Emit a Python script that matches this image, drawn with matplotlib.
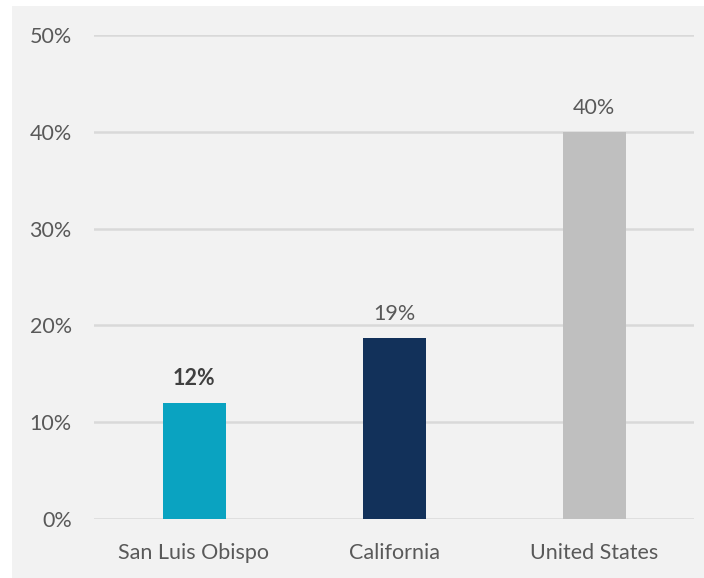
import matplotlib
matplotlib.use("Agg")
import matplotlib.pyplot as plt
from matplotlib.patches import Rectangle

categories = ["San Luis Obispo", "California", "United States"]
values = [0.12, 0.187, 0.40]
labels = ["12%", "19%", "40%"]
label_bold = [True, False, False]
colors = ["#0AA3C1", "#12315A", "#BFBFBF"]
yticks = [0, 0.1, 0.2, 0.3, 0.4, 0.5]
ytick_labels = ["0%", "10%", "20%", "30%", "40%", "50%"]

plt.rcParams['font.family'] = ['Lato', 'DejaVu Sans']
text_color = "#595959"

fig = plt.figure(figsize=(7.04, 5.78), dpi=100)
fig.patch.set_facecolor("white")
fig.patches.append(Rectangle((12/704, 0), 1 - 12/704, 1 - 6/578, transform=fig.transFigure,
                             facecolor="#F2F2F2", edgecolor="none", zorder=-10))

ax = fig.add_axes([94/704, 1 - 519/578, 600/704, (519 - 35)/578])
ax.set_facecolor("none")
x = list(range(len(categories)))
ax.bar(x, values, width=0.315, color=colors, zorder=3)
ax.set_xlim(-0.5, 2.5)
ax.set_ylim(0, 0.5)
ax.set_yticks(yticks)
ax.set_yticklabels(ytick_labels)
ax.set_xticks(x)
ax.set_xticklabels(categories)
for s in ax.spines.values():
    s.set_visible(False)
ax.grid(axis="y", color="#D9D9D9", linewidth=1.8, zorder=0)
ax.tick_params(axis="both", length=0, labelsize=15.5, labelcolor=text_color)
ax.tick_params(axis="y", pad=16)
ax.tick_params(axis="x", pad=17)

for xi, v, lab, b in zip(x, values, labels, label_bold):
    ax.annotate(lab, (xi, v), xytext=(0, 10), textcoords="offset points",
                ha="center", va="bottom", fontsize=15.5, color="#404040" if b else text_color,
                fontweight="bold" if b else "normal")

fig.savefig("out.png", dpi=100)
